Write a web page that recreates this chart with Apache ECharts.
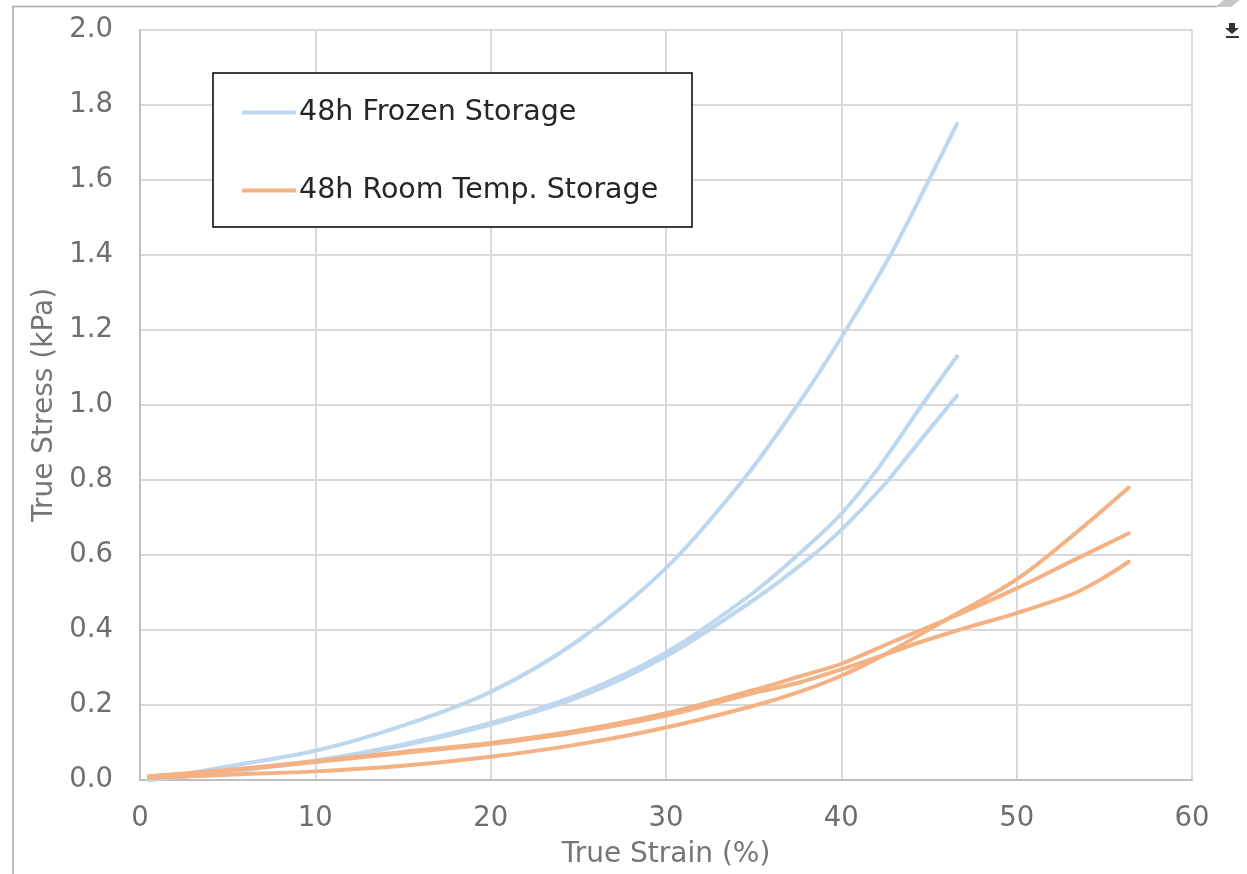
<!DOCTYPE html>
<html>
<head>
<meta charset="utf-8">
<title>True Stress vs True Strain</title>
<script src="https://cdn.jsdelivr.net/npm/echarts@6/dist/echarts.min.js"></script>
<style>
  html, body { margin: 0; padding: 0; background: #fff; }
  #chart { width: 1247px; height: 874px; }
</style>
</head>
<body>
<div id="chart"></div>
<script>
// Series names
const frozenName = '48h Frozen Storage';
const roomName = '48h Room Temp. Storage';

// Axis titles
const xTitle = 'True Strain (%)';
const yTitle = 'True Stress (kPa)';

// Frozen storage samples: [true strain %, true stress kPa]
const frozen1 = [[0.5,0.0],[5,0.036],[10,0.078],[15,0.145],[20,0.235],[25,0.372],[30,0.565],[34.4,0.8],[37.5,1.0],[40,1.18],[42.8,1.4],[45,1.6],[46.6,1.75]];
const frozen2 = [[0.5,0.0],[5,0.025],[10,0.052],[15,0.095],[20,0.152],[25,0.228],[30,0.34],[35,0.5],[38,0.62],[40,0.71],[42,0.825],[44.6,1.0],[46.6,1.13]];
const frozen3 = [[0.5,0.0],[5,0.022],[10,0.05],[15,0.092],[20,0.148],[25,0.22],[30,0.33],[35,0.48],[38,0.585],[40,0.667],[42.5,0.79],[44.5,0.905],[46.6,1.025]];

// Room temperature storage samples
const room1 = [[0.5,0.005],[5,0.014],[10,0.023],[15,0.038],[20,0.062],[25,0.095],[30,0.14],[35,0.198],[37.6,0.235],[40,0.278],[42.4,0.333],[46,0.428],[50,0.535],[53.2,0.652],[56.4,0.78]];
const room2 = [[0.5,0.01],[5,0.027],[10,0.05],[15,0.075],[20,0.099],[25,0.132],[30,0.178],[35,0.24],[37.6,0.276],[40,0.31],[43,0.37],[46,0.428],[50,0.511],[53.2,0.585],[56.4,0.658]];
const room3 = [[0.5,0.01],[5,0.025],[10,0.048],[15,0.072],[20,0.096],[25,0.128],[30,0.172],[35,0.232],[37.6,0.26],[40,0.295],[42.4,0.333],[44,0.36],[46,0.39],[48,0.418],[50,0.445],[53.2,0.496],[54.8,0.535],[56.4,0.582]];

const frozenColor = '#BDD7EE';
const roomColor = '#F4B183';
const FONT = '"DejaVu Sans", Verdana, sans-serif';

function curve(name, data, color) {
  return {
    type: 'line',
    name: name,
    data: data,
    smooth: 0.3,
    showSymbol: false,
    symbol: 'none',
    color: color,
    lineStyle: { color: color, width: 4, cap: 'round', join: 'round' },
    z: 2
  };
}

const chart = echarts.init(document.getElementById('chart'), null, { renderer: 'canvas' });

chart.setOption({
  animation: false,
  backgroundColor: '#fff',
  grid: { left: 140, right: 55, top: 30, bottom: 94, containLabel: false },
  xAxis: {
    type: 'value',
    min: 0, max: 60, interval: 10,
    name: xTitle,
    nameLocation: 'middle',
    nameGap: 61,
    nameTextStyle: { fontFamily: FONT, fontSize: 28, color: '#767676' },
    axisLine: { show: true, lineStyle: { color: '#bfbfbf', width: 2 } },
    axisTick: { show: false },
    axisLabel: { fontFamily: FONT, fontSize: 27.5, color: '#6e6e6e', margin: 25 },
    splitLine: { show: true, lineStyle: { color: '#d9d9d9', width: 2 } }
  },
  yAxis: {
    type: 'value',
    min: 0, max: 2, interval: 0.2,
    name: yTitle,
    nameLocation: 'middle',
    nameGap: 81,
    nameTextStyle: { fontFamily: FONT, fontSize: 28, color: '#767676' },
    axisLine: { show: true, lineStyle: { color: '#bfbfbf', width: 2 } },
    axisTick: { show: false },
    axisLabel: {
      fontFamily: FONT, fontSize: 27.5, color: '#6e6e6e', margin: 27,
      formatter: v => v.toFixed(1)
    },
    splitLine: { show: true, lineStyle: { color: '#d9d9d9', width: 2 } }
  },
  legend: {
    show: true,
    orient: 'vertical',
    left: 237,
    top: 93,
    itemWidth: 54,
    itemHeight: 14,
    itemGap: 49,
    icon: 'path://M0,0 L54,0 L54,4 L0,4 Z',
    data: [
      { name: frozenName, itemStyle: { color: frozenColor } },
      { name: roomName, itemStyle: { color: roomColor } }
    ],
    textStyle: { fontFamily: FONT, fontSize: 28.5, color: '#262626', padding: [0, 0, 0, -2] },
    z: 6
  },
  graphic: [
    // legend frame
    { type: 'rect', z: 5, shape: { x: 213, y: 73, width: 479, height: 154 },
      style: { fill: '#fff', stroke: '#000', lineWidth: 1.5 } },
    // outer page frame
    { type: 'polyline', z: 1, shape: { points: [[13, 874], [13, 6.5], [1217, 6.5]] },
      style: { stroke: '#a6a6a6', lineWidth: 1.5, fill: null } },
    { type: 'polygon', z: 1, shape: { points: [[1215, 7], [1224, 0], [1240, 0], [1231, 7]] },
      style: { fill: '#c8c8c8' } },
    // download glyph
    { type: 'polygon', z: 1, shape: { points: [[1229, 23], [1235, 23], [1235, 28], [1239, 28], [1232, 34], [1225, 28], [1229, 28]] },
      style: { fill: '#333' } },
    { type: 'rect', z: 1, shape: { x: 1226, y: 36, width: 13, height: 2 }, style: { fill: '#333' } }
  ],
  series: [
    curve(frozenName, frozen1, frozenColor),
    curve(frozenName, frozen2, frozenColor),
    curve(frozenName, frozen3, frozenColor),
    curve(roomName, room1, roomColor),
    curve(roomName, room2, roomColor),
    curve(roomName, room3, roomColor)
  ]
});
</script>
</body>
</html>
